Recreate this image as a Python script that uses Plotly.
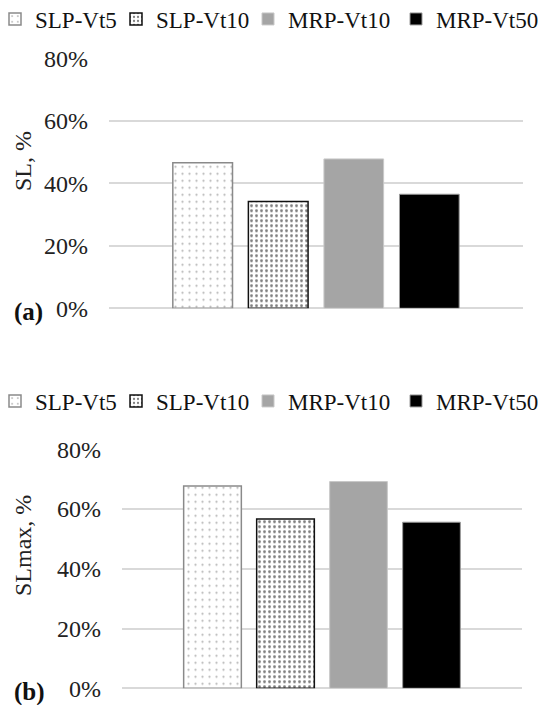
import plotly.graph_objects as go

series = ["SLP-Vt5", "SLP-Vt10", "MRP-Vt10", "MRP-Vt50"]
sl_values = [46.6, 34.2, 47.8, 36.5]
slmax_values = [67.7, 56.7, 69.2, 55.6]
y_ticks = [0, 20, 40, 60, 80]
y_tick_labels = ["0%", "20%", "40%", "60%", "80%"]
category = ["all"]

styles = [
    dict(color="white", line=dict(color="#8a8a8a", width=1.5),
         pattern=dict(shape=".", fgcolor="#6a6a6a", bgcolor="white", size=7, solidity=0.08)),
    dict(color="white", line=dict(color="#111111", width=1.5),
         pattern=dict(shape=".", fgcolor="#000000", bgcolor="white", size=5, solidity=0.25)),
    dict(color="#a5a5a5", line=dict(color="#c8c8c8", width=1)),
    dict(color="#000000", line=dict(color="#9a9a9a", width=1)),
]

FONT = "Liberation Serif"
W, H = 543, 705
# horizontal pixel where each legend entry's text starts (reference)
legend_text_x = [36, 157, 289, 437]

fig = go.Figure()
for i, name in enumerate(series):
    fig.add_trace(go.Bar(x=category, y=[sl_values[i]], name=name, marker=styles[i],
                         xaxis="x", yaxis="y", legend="legend" if i == 0 else f"legend{i + 1}"))
for i, name in enumerate(series):
    fig.add_trace(go.Bar(x=category, y=[slmax_values[i]], name=name, marker=styles[i],
                         xaxis="x2", yaxis="y2", legend=f"legend{i + 5}"))

yaxis_common = dict(range=[0, 80], tickvals=y_ticks, ticktext=y_tick_labels,
                    showgrid=True, gridcolor="#d9d9d9", gridwidth=1.5,
                    zeroline=True, zerolinecolor="#d9d9d9", zerolinewidth=1.5,
                    showline=False, ticks="", ticklabelstandoff=20,
                    tickfont=dict(family=FONT, size=24, color="#222222"))
xaxis_common = dict(showticklabels=False, showgrid=False, zeroline=False, showline=False, ticks="")

legend_common = dict(orientation="h", font=dict(family=FONT, size=23, color="#111111"),
                     bgcolor="rgba(0,0,0,0)", xanchor="left", yanchor="middle",
                     itemwidth=30)

legends = {}
for i in range(4):
    lx = (legend_text_x[i] - 41) / W
    key_top = "legend" if i == 0 else f"legend{i + 1}"
    legends[key_top] = dict(x=lx, y=1 - 19 / H, **legend_common)
    legends[f"legend{i + 5}"] = dict(x=lx, y=1 - 401 / H, **legend_common)

ann_common = dict(xref="paper", yref="paper", showarrow=False, xanchor="center", yanchor="middle")

fig.update_layout(
    width=W, height=H, margin=dict(l=0, r=0, t=0, b=0, autoexpand=False),
    plot_bgcolor="white", paper_bgcolor="white",
    barmode="group", bargap=0.27, bargroupgap=0.21,
    xaxis=dict(domain=[109 / W, 523 / W], anchor="y", **xaxis_common),
    yaxis=dict(domain=[1 - 308.3 / H, 1 - 58.3 / H], anchor="x", **yaxis_common),
    xaxis2=dict(domain=[122 / W, 522 / W], anchor="y2", **xaxis_common),
    yaxis2=dict(domain=[1 - 688.3 / H, 1 - 449.3 / H], anchor="x2", **yaxis_common),
    showlegend=True,
    annotations=[
        dict(text="SL, %", textangle=-90, x=23 / W, y=1 - 161 / H,
             font=dict(family=FONT, size=24, color="#222222"), **ann_common),
        dict(text="SLmax, %", textangle=-90, x=23 / W, y=1 - 546 / H,
             font=dict(family=FONT, size=24, color="#222222"), **ann_common),
        dict(text="<b>(a)</b>", x=28 / W, y=1 - 312 / H,
             font=dict(family=FONT, size=25, color="#111111"), **ann_common),
        dict(text="<b>(b)</b>", x=29 / W, y=1 - 692 / H,
             font=dict(family=FONT, size=25, color="#111111"), **ann_common),
    ],
    **legends,
)

fig.write_html("out.html", config={"displayModeBar": False},
               post_script="document.body.style.margin='0px';")
